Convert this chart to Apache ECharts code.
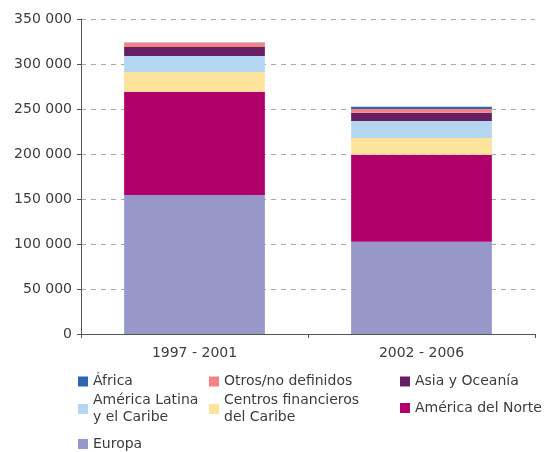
<!DOCTYPE html>
<html>
<head>
<meta charset="utf-8">
<script src="https://cdn.jsdelivr.net/npm/echarts@6/dist/echarts.min.js"></script>
<style>
  html, body { margin: 0; padding: 0; background: #fff; }
  #chart-container { width: 546px; height: 452px; }
</style>
</head>
<body>
<div id="chart-container"></div>
<script>
// Periods on the x axis
const periods = ['1997 - 2001', '2002 - 2006'];

// Series values (bottom to top of each stack)
const europa = [154400, 102600];
const americaNorte = [114800, 96600];
const centrosCaribe = [21900, 18600];
const americaLatina = [17800, 18900];
const asiaOceania = [10000, 9200];
const otros = [4800, 4100];
const africa = [200, 2600];

// Y tick values
const yTicks = [0, 50000, 100000, 150000, 200000, 250000, 300000, 350000];

const textColor = '#3c3c3c';
const fontFamily = '"DejaVu Sans", sans-serif';

const seriesDefs = [
  { name: 'Europa', data: europa, color: '#9797c9' },
  { name: 'América del Norte', data: americaNorte, color: '#b0006a' },
  { name: 'Centros financieros del Caribe', data: centrosCaribe, color: '#fee39c' },
  { name: 'América Latina y el Caribe', data: americaLatina, color: '#b4d6f0' },
  { name: 'Asia y Oceanía', data: asiaOceania, color: '#661f63' },
  { name: 'Otros/no definidos', data: otros, color: '#f48282' },
  { name: 'África', data: africa, color: '#2e65b0' }
];

// legend placement: one small legend per entry so the three columns line up
const legendSlots = [
  { name: 'África', left: 78, top: 373 },
  { name: 'Otros/no definidos', left: 209, top: 373 },
  { name: 'Asia y Oceanía', left: 400, top: 373 },
  { name: 'América Latina y el Caribe', left: 78, top: 388, label: 'América Latina\ny el Caribe' },
  { name: 'Centros financieros del Caribe', left: 209, top: 388, label: 'Centros financieros\ndel Caribe' },
  { name: 'América del Norte', left: 400, top: 399.5 },
  { name: 'Europa', left: 78, top: 435.5 }
];

function fmtThousands(v) {
  return String(v).replace(/\B(?=(\d{3})+(?!\d))/g, ' ');
}

const chartDom = document.getElementById('chart-container');
const myChart = echarts.init(chartDom, null, { renderer: 'canvas' });

const legends = legendSlots.map(function (slot) {
  const twoLines = !!slot.label;
  return {
    data: [slot.name],
    left: slot.left,
    top: slot.top,
    padding: 0,
    icon: 'rect',
    itemWidth: 10,
    itemHeight: 10,
    selectedMode: false,
    formatter: twoLines ? function () { return slot.label; } : '{name}',
    textStyle: {
      color: textColor,
      fontSize: 14,
      fontFamily: fontFamily,
      lineHeight: 17,
      padding: twoLines ? [8, 0, 0, 0] : 0
    }
  };
});

const option = {
  animation: false,
  backgroundColor: '#fff',
  grid: { left: 81, right: 11, top: 19, bottom: 118 },
  legend: legends,
  xAxis: {
    type: 'category',
    data: periods,
    axisLine: { lineStyle: { color: '#555', width: 1 } },
    axisTick: { show: true, length: 4, alignWithLabel: false, lineStyle: { color: '#555' } },
    axisLabel: { color: textColor, fontSize: 14, fontFamily: fontFamily, margin: 12 }
  },
  yAxis: {
    type: 'value',
    min: yTicks[0],
    max: yTicks[yTicks.length - 1],
    interval: 50000,
    axisLine: { show: true, lineStyle: { color: '#555', width: 1 } },
    axisTick: { show: true, length: 4, lineStyle: { color: '#555' } },
    axisLabel: {
      color: textColor, fontSize: 14, fontFamily: fontFamily, margin: 9,
      formatter: fmtThousands
    },
    splitLine: { show: true, lineStyle: { color: '#aaa', type: [5, 5], width: 1 } }
  },
  series: seriesDefs.map(function (s) {
    return {
      name: s.name,
      type: 'bar',
      stack: 'total',
      data: s.data,
      barWidth: '62%',
      itemStyle: { color: s.color },
      emphasis: { disabled: true }
    };
  })
};

myChart.setOption(option);
</script>
</body>
</html>
